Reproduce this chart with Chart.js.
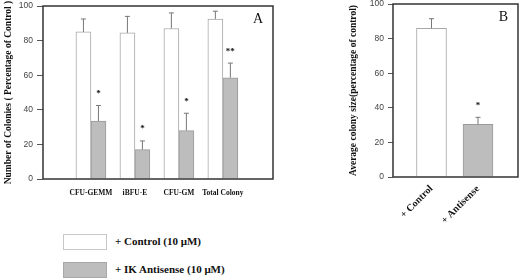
<!DOCTYPE html>
<html>
<head>
<meta charset="utf-8">
<script src="https://cdn.jsdelivr.net/npm/chart.js@4/dist/chart.umd.min.js"></script>
<style>
  html, body { margin: 0; padding: 0; background: #fff; }
  body { width: 520px; height: 279px; position: relative; overflow: hidden; }
  #wrapA { position: absolute; left: 0; top: 0; width: 280px; height: 210px; }
  #wrapB { position: absolute; left: 290px; top: 0; width: 230px; height: 228px; }
  .leg { position: absolute; left: 63px; width: 44px; height: 16px; box-sizing: border-box; }
  .legt { position: absolute; left: 115px; font: bold 11px "Liberation Serif", "Times New Roman", serif; color: #111; }
</style>
</head>
<body>
<div id="wrapA"><canvas id="chartA" width="280" height="210"></canvas></div>
<div id="wrapB"><canvas id="chartB" width="230" height="228"></canvas></div>
<div class="leg" style="top:234px; background:#fff; border:1px solid #c8c8c8;"></div>
<div class="legt" style="top:235px;">+ Control (10 μM)</div>
<div class="leg" style="top:262px; background:#bdbdbd; border:1px solid #a8a8a8;"></div>
<div class="legt" style="top:263px;">+ IK Antisense (10 μM)</div>
<script>
// ---- Panel A data ----
const categoriesA = ['CFU-GEMM', 'iBFU-E', 'CFU-GM', 'Total Colony'];
const controlA = [85, 84.5, 87, 92.5];
const controlErrA = [7.5, 9.5, 9, 4.5];
const antisenseA = [33.5, 17, 28, 58.5];
const antisenseErrA = [9, 5, 10, 8.5];
const starsA = ['*', '*', '*', '**'];
const yTicksA = [0, 20, 40, 60, 80, 100];

// ---- Panel B data ----
const categoriesB = ['+ Control', '+ Antisense'];
const controlB = [86, null];
const controlErrB = [5.5, null];
const antisenseB = [null, 30.5];
const antisenseErrB = [null, 4];
const starsB = ['', '*'];
const yTicksB = [0, 20, 40, 60, 80, 100];

const tickFont = { family: 'Liberation Sans, Arial, sans-serif', size: 8.5 };
const serifBold = (s) => ({ family: 'Liberation Serif, Times New Roman, serif', size: s, weight: 'bold' });

const framePlugin = {
  id: 'frame',
  afterDraw(chart) {
    const a = chart.chartArea, ctx = chart.ctx;
    ctx.save();
    ctx.strokeStyle = '#333';
    ctx.lineWidth = 1.5;
    ctx.strokeRect(a.left, a.top, a.right - a.left, a.bottom - a.top);
    ctx.restore();
  }
};

const errorPlugin = {
  id: 'errs',
  afterDatasetsDraw(chart) {
    const ctx = chart.ctx, ys = chart.scales.y;
    ctx.save();
    chart.data.datasets.forEach((ds, di) => {
      const meta = chart.getDatasetMeta(di);
      meta.data.forEach((bar, i) => {
        const v = ds.data[i] && ds.data[i].y;
        if (v == null) return;
        const e = ds.errs[i];
        if (e != null) {
          const yt = ys.getPixelForValue(v + e);
          ctx.strokeStyle = '#777';
          ctx.lineWidth = 1;
          ctx.beginPath();
          ctx.moveTo(bar.x, bar.y);
          ctx.lineTo(bar.x, yt);
          ctx.moveTo(bar.x - 2.5, yt);
          ctx.lineTo(bar.x + 2.5, yt);
          ctx.stroke();
          const s = ds.stars ? ds.stars[i] : '';
          if (s) {
            ctx.fillStyle = '#111';
            ctx.font = 'bold 9px "Liberation Serif", serif';
            ctx.textAlign = 'center';
            ctx.textBaseline = 'middle';
            ctx.fillText(s, bar.x, ys.getPixelForValue(v + e + 8) + 2);
          }
        }
      });
    });
    ctx.restore();
  }
};

const letterPlugin = {
  id: 'letter',
  afterDraw(chart, args, opts) {
    const a = chart.chartArea, ctx = chart.ctx;
    ctx.save();
    ctx.fillStyle = '#111';
    ctx.font = '14px "Liberation Serif", serif';
    ctx.textAlign = 'right';
    ctx.textBaseline = 'top';
    ctx.fillText(opts.text, a.right - 10, a.top + 6);
    ctx.restore();
  }
};

function pts(vals) { return vals.map((v, i) => ({ x: i + 1, y: v })); }

// ---- Chart A ----
new Chart(document.getElementById('chartA'), {
  type: 'bar',
  data: {
    datasets: [
      { label: '+ Control (10 μM)', data: pts(controlA), errs: controlErrA,
        backgroundColor: '#ffffff', borderColor: '#a8a8a8', borderWidth: 1, borderSkipped: 'bottom' },
      { label: '+ IK Antisense (10 μM)', data: pts(antisenseA), errs: antisenseErrA, stars: starsA,
        backgroundColor: '#bdbdbd', borderColor: '#9a9a9a', borderWidth: 1, borderSkipped: 'bottom' }
    ]
  },
  options: {
    responsive: false, animation: false,
    layout: { padding: { top: 6, right: 7, left: 0, bottom: 0 } },
    datasets: { bar: { barThickness: 15 } },
    plugins: { legend: { display: false }, tooltip: { enabled: false }, letter: { text: 'A' } },
    scales: {
      x: {
        type: 'linear', min: -0.09, max: 5.14, offset: false,
        afterBuildTicks: (s) => { s.ticks = categoriesA.map((c, i) => ({ value: i + 1 })); },
        afterFit: (s) => { s.height = 31; s.paddingLeft = 0; s.paddingRight = 0; },
        grid: { display: false, drawTicks: false, offset: false },
        border: { display: false },
        ticks: { autoSkip: false, maxRotation: 0, padding: 10, color: '#111', font: serifBold(7.5),
                 callback: (v) => categoriesA[v - 1] }
      },
      y: {
        min: 0, max: 100,
        afterBuildTicks: (s) => { s.ticks = yTicksA.map(v => ({ value: v })); },
        afterFit: (s) => { s.width = 43; s.paddingTop = 0; s.paddingBottom = 0; },
        grid: { drawOnChartArea: false, tickLength: 6, color: '#555' },
        border: { display: false },
        ticks: { padding: 4, color: '#444', font: tickFont },
        title: { display: true, text: 'Number of Colonies ( Percentage of Control )', color: '#111', font: serifBold(9.5), padding: { top: 3, bottom: 0 } }
      }
    }
  },
  plugins: [framePlugin, errorPlugin, letterPlugin]
});

// ---- Chart B ----
new Chart(document.getElementById('chartB'), {
  type: 'bar',
  data: {
    datasets: [
      { label: '+ Control', data: pts(controlB), errs: controlErrB,
        backgroundColor: '#ffffff', borderColor: '#a8a8a8', borderWidth: 1, borderSkipped: 'bottom', grouped: false },
      { label: '+ Antisense', data: pts(antisenseB), errs: antisenseErrB, stars: starsB,
        backgroundColor: '#bdbdbd', borderColor: '#9a9a9a', borderWidth: 1, borderSkipped: 'bottom', grouped: false }
    ]
  },
  options: {
    responsive: false, animation: false,
    layout: { padding: { top: 4, right: 2, left: 55, bottom: 0 } },
    datasets: { bar: { barThickness: 30 } },
    plugins: { legend: { display: false }, tooltip: { enabled: false }, letter: { text: 'B' } },
    scales: {
      x: {
        type: 'linear', min: 0.172, max: 2.86, offset: false,
        afterBuildTicks: (s) => { s.ticks = categoriesB.map((c, i) => ({ value: i + 1 })); },
        afterFit: (s) => { s.height = 51; s.paddingLeft = 0; s.paddingRight = 0; },
        grid: { display: false, drawTicks: false, offset: false },
        border: { display: false },
        ticks: { autoSkip: false, minRotation: 45, maxRotation: 45, padding: 6, color: '#111',
                 font: serifBold(10),
                 callback: (v) => categoriesB[v - 1] }
      },
      y: {
        min: 0, max: 100,
        afterBuildTicks: (s) => { s.ticks = yTicksB.map(v => ({ value: v })); },
        afterFit: (s) => { s.width = 48; s.paddingTop = 0; s.paddingBottom = 0; },
        grid: { drawOnChartArea: false, tickLength: 5, color: '#555' },
        border: { display: false },
        ticks: { padding: 4, color: '#444', font: tickFont },
        title: { display: true, text: 'Average colony size(percentage of control)', color: '#111', font: serifBold(9.5), padding: { top: 3, bottom: 0 } }
      }
    }
  },
  plugins: [framePlugin, errorPlugin, letterPlugin]
});
</script>
</body>
</html>
